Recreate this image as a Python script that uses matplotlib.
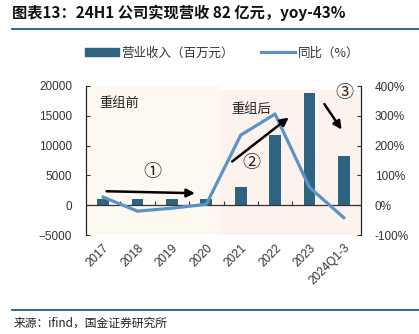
import matplotlib
matplotlib.use("Agg")
import matplotlib.pyplot as plt
from matplotlib.lines import Line2D
from matplotlib.patches import Patch
from matplotlib.ticker import FuncFormatter

plt.rcParams['font.family'] = ['Liberation Sans', 'Noto Sans CJK SC', 'DejaVu Sans']

categories = ['2017', '2018', '2019', '2020', '2021', '2022', '2023', '2024Q1-3']
revenue = [1100, 1000, 1000, 1000, 3000, 11800, 18800, 8200]
yoy = [27, -20, -10, 3, 235, 306, 60, -42]
left_ticks = [-5000, 0, 5000, 10000, 15000, 20000]
right_ticks = [-100, 0, 100, 200, 300, 400]

bar_color = '#2E6480'
line_color = '#5B93C8'
cjk = ['Noto Sans CJK SC', 'DejaVu Sans']

fig = plt.figure(figsize=(4.19, 3.34), dpi=100)
ax = fig.add_axes([86/419, 1-235/334, (361-86)/419, (235-86)/334])
ax2 = ax.twinx()

x = list(range(len(categories)))
ax.set_xlim(-0.5, 7.5)
ax.set_ylim(-5000, 20000)
ax2.set_ylim(-100, 400)

ax.axvspan(-0.5, 3.4, color='#FEF9F0', zorder=0, lw=0)
ax.axvspan(3.4, 7.5, ymin=-0.01, ymax=0.975, color='#FDF3EE', zorder=0, lw=0)

ax.bar(x, revenue, width=0.34, color=bar_color, zorder=2)
ax.axhline(0, color='#333333', lw=0.9, zorder=3)
ax2.plot(x, yoy, color=line_color, lw=2.3, zorder=3)

ax.set_yticks(left_ticks)
ax2.set_yticks(right_ticks)
ax2.yaxis.set_major_formatter(FuncFormatter(lambda v, p: f'{int(v)}%'))
ax.set_xticks(x)
ax.set_xticklabels(categories, rotation=45, ha='right', rotation_mode='anchor')
ax.tick_params(axis='x', length=0, pad=5, labelsize=8.5, colors='#333333')
ax.tick_params(axis='y', direction='in', length=3, labelsize=8.5, pad=10, colors='#333333')
ax2.tick_params(axis='y', direction='in', length=3, labelsize=8.5, pad=10, colors='#333333')
for a in (ax, ax2):
    a.spines['top'].set_visible(False)
    a.spines['bottom'].set_visible(False)
    a.spines['left'].set_color('#222222')
    a.spines['right'].set_color('#222222')
    a.patch.set_visible(False)
ax.set_zorder(1)
ax2.set_zorder(2)

sec = ax.secondary_xaxis(0.2)
sec.set_xticks([i + 0.5 for i in range(7)])
sec.tick_params(axis='x', direction='in', length=3, labelbottom=False, colors='#333333')
sec.spines['bottom'].set_visible(False)

arrow = dict(arrowstyle='-|>', color='black', lw=1.8, mutation_scale=12)
ax2.annotate('', xy=(2.75, 40), xytext=(0.02, 47), arrowprops=arrow, zorder=6)
ax2.annotate('', xy=(5.46, 300), xytext=(3.69, 141), arrowprops=arrow, zorder=6)
ax2.annotate('', xy=(6.98, 246), xytext=(6.39, 347), arrowprops=arrow, zorder=6)

ax2.text(-0.12, 340, '重组前', family=cjk, fontsize=9.5, va='center', ha='left', color='#222222', zorder=6)
ax2.text(3.72, 320, '重组后', family=cjk, fontsize=9.5, va='center', ha='left', color='#222222', zorder=6)
ax2.text(1.42, 111, '①', family=cjk, fontsize=13, va='center', ha='center', color='#222222', zorder=6)
ax2.text(4.3, 141, '②', family=cjk, fontsize=13, va='center', ha='center', color='#222222', zorder=6)
ax2.text(7.03, 377, '③', family=cjk, fontsize=13, va='center', ha='center', color='#222222', zorder=6)

handles = [Patch(facecolor=bar_color, edgecolor=bar_color),
           Line2D([0], [0], color=line_color, lw=2.3)]
fig.legend(handles, ['营业收入（百万元）', '同比（%）'], loc='center', bbox_to_anchor=(0.53, 1-53/334),
           ncol=2, frameon=False, prop={'family': cjk, 'size': 9}, handlelength=2.7,
           handleheight=0.6, columnspacing=2.2, handletextpad=0.2, labelcolor='#333333')

fig.text(12/419, 1-13/334, '图表13：24H1 公司实现营收 82 亿元，yoy-43%', family=cjk, fontsize=11,
         fontweight='bold', va='center', ha='left', color='#111111')
fig.add_artist(Line2D([12/419, 1.0], [1-29/334, 1-29/334], color='#1F5C8A', lw=1.3))
fig.add_artist(Line2D([12/419, 1.0], [1-310/334, 1-310/334], color='#1F5C8A', lw=1.3))
fig.text(14/419, 1-323/334, '来源：ifind，国金证券研究所', family=cjk, fontsize=8.5,
         va='center', ha='left', color='#222222')

fig.savefig('out.png', dpi=100)
